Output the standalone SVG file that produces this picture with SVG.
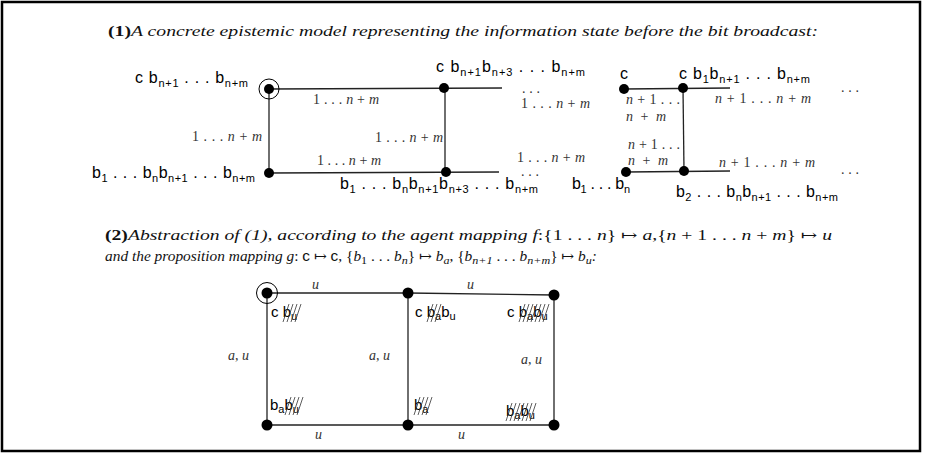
<svg xmlns="http://www.w3.org/2000/svg" width="925" height="455" viewBox="0 0 925 455">
<style>
.p{font-family:"Liberation Sans",Arial,sans-serif;font-size:16px;fill:#000}
.q{font-family:"Liberation Sans",Arial,sans-serif;font-size:15px;fill:#000}
.s{font-size:11px}
.e{font-family:"Liberation Serif","DejaVu Serif",serif;font-size:14px;fill:#333}
.f{font-family:"Liberation Serif","DejaVu Serif",serif;font-size:14px;fill:#333}
.i{font-style:italic}
.h{font-family:"Liberation Serif","DejaVu Serif",serif;font-size:14px;fill:#111}
.b{font-weight:bold;font-style:normal}
.ln{stroke:#222;stroke-width:1.3;fill:none}
.nd{fill:#000}
.ring{fill:none;stroke:#000;stroke-width:1}
.neg{stroke:#333;stroke-width:0.8;fill:none}
.hs{font-family:"Liberation Sans",Arial,sans-serif;font-style:normal}
</style>
<rect x="2" y="2" width="918" height="449" fill="#fff" stroke="#000" stroke-width="2.5"/>

<text class="h" x="108" y="36" textLength="710" lengthAdjust="spacingAndGlyphs"><tspan class="b">(1)</tspan><tspan class="i">A concrete epistemic model representing the information state before the bit broadcast:</tspan></text>

<text class="h" x="105" y="240" textLength="727" lengthAdjust="spacingAndGlyphs"><tspan class="b">(2)</tspan><tspan class="i">Abstraction of (1), according to the agent mapping f</tspan>:{1 . . . <tspan class="i">n</tspan>} ↦ <tspan class="i">a</tspan>,{<tspan class="i">n</tspan> + 1 . . . <tspan class="i">n</tspan> + <tspan class="i">m</tspan>} ↦ <tspan class="i">u</tspan></text>
<text class="h" x="105" y="261" textLength="492" lengthAdjust="spacingAndGlyphs"><tspan class="i">and the proposition mapping g</tspan>: <tspan class="hs">c</tspan> ↦ <tspan class="hs">c</tspan>, {<tspan class="i">b</tspan><tspan class="s" dy="3">1</tspan><tspan dy="-3"> . . . </tspan><tspan class="i">b</tspan><tspan class="s i" dy="3">n</tspan><tspan dy="-3">} ↦ </tspan><tspan class="i">b</tspan><tspan class="s i" dy="3">a</tspan><tspan dy="-3">, {</tspan><tspan class="i">b</tspan><tspan class="s i" dy="3">n+1</tspan><tspan dy="-3"> . . . </tspan><tspan class="i">b</tspan><tspan class="s i" dy="3">n+m</tspan><tspan dy="-3">} ↦ </tspan><tspan class="i">b</tspan><tspan class="s i" dy="3">u</tspan><tspan dy="-3" class="i">:</tspan></text>

<g id="connectors">
<line class="ln" x1="269" y1="89" x2="502" y2="88"/>
<line class="ln" x1="269" y1="173" x2="499" y2="172"/>
<line class="ln" x1="269" y1="89" x2="269" y2="173"/>
<line class="ln" x1="445" y1="88" x2="445" y2="172"/>
<line class="ln" x1="624" y1="89" x2="730" y2="88"/>
<line class="ln" x1="626" y1="172" x2="730" y2="171"/>
<line class="ln" x1="683" y1="88" x2="684" y2="171"/>
<line class="ln" x1="267" y1="293" x2="408" y2="293"/>
<line class="ln" x1="408" y1="293" x2="554" y2="295"/>
<line class="ln" x1="267" y1="293" x2="267" y2="425"/>
<line class="ln" x1="408" y1="293" x2="408" y2="425"/>
<line class="ln" x1="554" y1="295" x2="554" y2="425"/>
<line class="ln" x1="267" y1="425" x2="408" y2="425"/>
<line class="ln" x1="408" y1="425" x2="554" y2="425"/>
</g>

<g id="edge-labels">
<text class="e" x="313" y="104" textLength="66">1 . . . <tspan class="i">n</tspan> + <tspan class="i">m</tspan></text>
<text class="e" x="192" y="141" textLength="70">1 . . . <tspan class="i">n</tspan> + <tspan class="i">m</tspan></text>
<text class="e" x="375" y="142" textLength="68">1 . . . <tspan class="i">n</tspan> + <tspan class="i">m</tspan></text>
<text class="e" x="317" y="165" textLength="64">1 . . . <tspan class="i">n</tspan> + <tspan class="i">m</tspan></text>
<text class="e" x="522" y="93" textLength="18">. . .</text>
<text class="e" x="521" y="108" textLength="69">1 . . . <tspan class="i">n</tspan> + <tspan class="i">m</tspan></text>
<text class="e" x="517" y="162" textLength="68">1 . . . <tspan class="i">n</tspan> + <tspan class="i">m</tspan></text>
<text class="e" x="521" y="176" textLength="18">. . .</text>
<text class="e" x="626" y="104" textLength="54"><tspan class="i">n</tspan> + 1 . . .</text>
<text class="e" x="626" y="121" textLength="40"><tspan class="i">n</tspan> + <tspan class="i">m</tspan></text>
<text class="e" x="628" y="149" textLength="52"><tspan class="i">n</tspan> + 1 . . .</text>
<text class="e" x="628" y="165" textLength="40"><tspan class="i">n</tspan> + <tspan class="i">m</tspan></text>
<text class="e" x="715" y="103" textLength="96"><tspan class="i">n</tspan> + 1 . . . <tspan class="i">n</tspan> + <tspan class="i">m</tspan></text>
<text class="e" x="719" y="167" textLength="96"><tspan class="i">n</tspan> + 1 . . . <tspan class="i">n</tspan> + <tspan class="i">m</tspan></text>
<text class="e" x="841" y="92" textLength="18">. . .</text>
<text class="e" x="841" y="174" textLength="18">. . .</text>
<text class="f i" x="312" y="289">u</text>
<text class="f i" x="467" y="289">u</text>
<text class="f i" x="315" y="439">u</text>
<text class="f i" x="458" y="439">u</text>
<text class="f" x="228" y="360"><tspan class="i">a</tspan>, <tspan class="i">u</tspan></text>
<text class="f" x="369" y="360"><tspan class="i">a</tspan>, <tspan class="i">u</tspan></text>
<text class="f" x="521" y="364"><tspan class="i">a</tspan>, <tspan class="i">u</tspan></text>
</g>

<g id="w1"><circle class="ring" cx="269" cy="89" r="10"/><circle class="nd" cx="269" cy="89" r="5"/>
<text class="p" x="135" y="83" textLength="113">c b<tspan class="s" dy="4">n+1</tspan><tspan dy="-4"> . . . b</tspan><tspan class="s" dy="4">n+m</tspan></text></g>
<g id="w2"><circle class="nd" cx="269" cy="173" r="5"/>
<text class="p" x="92" y="178" textLength="163">b<tspan class="s" dy="4">1</tspan><tspan dy="-4"> . . . b</tspan><tspan class="s" dy="4">n</tspan><tspan dy="-4">b</tspan><tspan class="s" dy="4">n+1</tspan><tspan dy="-4"> . . . b</tspan><tspan class="s" dy="4">n+m</tspan></text></g>
<g id="w3"><circle class="nd" cx="444" cy="88" r="5"/>
<text class="p" x="436" y="72" textLength="149">c b<tspan class="s" dy="4">n+1</tspan><tspan dy="-4">b</tspan><tspan class="s" dy="4">n+3</tspan><tspan dy="-4"> . . . b</tspan><tspan class="s" dy="4">n+m</tspan></text></g>
<g id="w4"><circle class="nd" cx="446" cy="172" r="5"/>
<text class="p" x="340" y="189" textLength="198">b<tspan class="s" dy="4">1</tspan><tspan dy="-4"> . . . b</tspan><tspan class="s" dy="4">n</tspan><tspan dy="-4">b</tspan><tspan class="s" dy="4">n+1</tspan><tspan dy="-4">b</tspan><tspan class="s" dy="4">n+3</tspan><tspan dy="-4"> . . . b</tspan><tspan class="s" dy="4">n+m</tspan></text></g>
<g id="w5"><circle class="nd" cx="624" cy="89" r="5"/>
<text class="p" x="620" y="79">c</text></g>
<g id="w6"><circle class="nd" cx="683" cy="88" r="5"/>
<text class="p" x="679" y="79" textLength="131">c b<tspan class="s" dy="4">1</tspan><tspan dy="-4">b</tspan><tspan class="s" dy="4">n+1</tspan><tspan dy="-4"> . . . b</tspan><tspan class="s" dy="4">n+m</tspan></text></g>
<g id="w7"><circle class="nd" cx="626" cy="172" r="5"/>
<text class="p" x="572" y="189" textLength="58">b<tspan class="s" dy="4">1</tspan><tspan dy="-4"> . . . b</tspan><tspan class="s" dy="4">n</tspan></text></g>
<g id="w8"><circle class="nd" cx="684" cy="171" r="5"/>
<text class="p" x="676" y="197" textLength="162">b<tspan class="s" dy="4">2</tspan><tspan dy="-4"> . . . b</tspan><tspan class="s" dy="4">n</tspan><tspan dy="-4">b</tspan><tspan class="s" dy="4">n+1</tspan><tspan dy="-4"> . . . b</tspan><tspan class="s" dy="4">n+m</tspan></text></g>

<g id="v1"><circle class="ring" cx="267" cy="293" r="10.5"/><circle class="nd" cx="267" cy="293" r="5.5"/>
<text class="q" x="271" y="317">c b<tspan class="s" dy="3">u</tspan></text>
<path class="neg" d="M283,322l6,-18M287,322l6,-18M291,322l6,-18M295,322l6,-18"/></g>
<g id="v2"><circle class="nd" cx="408" cy="293" r="5.5"/>
<text class="q" x="415" y="317">c b<tspan class="s" dy="3">a</tspan><tspan dy="-3">b</tspan><tspan class="s" dy="3">u</tspan></text>
<path class="neg" d="M427,322l6,-18M431,322l6,-18M435,322l6,-18"/></g>
<g id="v3"><circle class="nd" cx="554" cy="295" r="5.5"/>
<text class="q" x="507" y="317">c b<tspan class="s" dy="3">a</tspan><tspan dy="-3">b</tspan><tspan class="s" dy="3">u</tspan></text>
<path class="neg" d="M519,322l6,-18M523,322l6,-18M527,322l6,-18M531,322l6,-18M535,322l6,-18M539,322l6,-18M543,322l6,-18"/></g>
<g id="v4"><circle class="nd" cx="267" cy="425" r="5.5"/>
<text class="q" x="270" y="410">b<tspan class="s" dy="3">a</tspan><tspan dy="-3">b</tspan><tspan class="s" dy="3">u</tspan></text>
<path class="neg" d="M285,415l6,-18M289,415l6,-18M293,415l6,-18M297,415l6,-18"/></g>
<g id="v5"><circle class="nd" cx="408" cy="425" r="5.5"/>
<text class="q" x="414" y="410">b<tspan class="s" dy="3">a</tspan></text>
<path class="neg" d="M414,415l6,-18M418,415l6,-18M422,415l6,-18M426,415l6,-18"/></g>
<g id="v6"><circle class="nd" cx="554" cy="425" r="5.5"/>
<text class="q" x="506" y="416">b<tspan class="s" dy="3">a</tspan><tspan dy="-3">b</tspan><tspan class="s" dy="3">u</tspan></text>
<path class="neg" d="M506,421l6,-18M510,421l6,-18M514,421l6,-18M518,421l6,-18M522,421l6,-18M526,421l6,-18M530,421l6,-18"/></g>
</svg>
